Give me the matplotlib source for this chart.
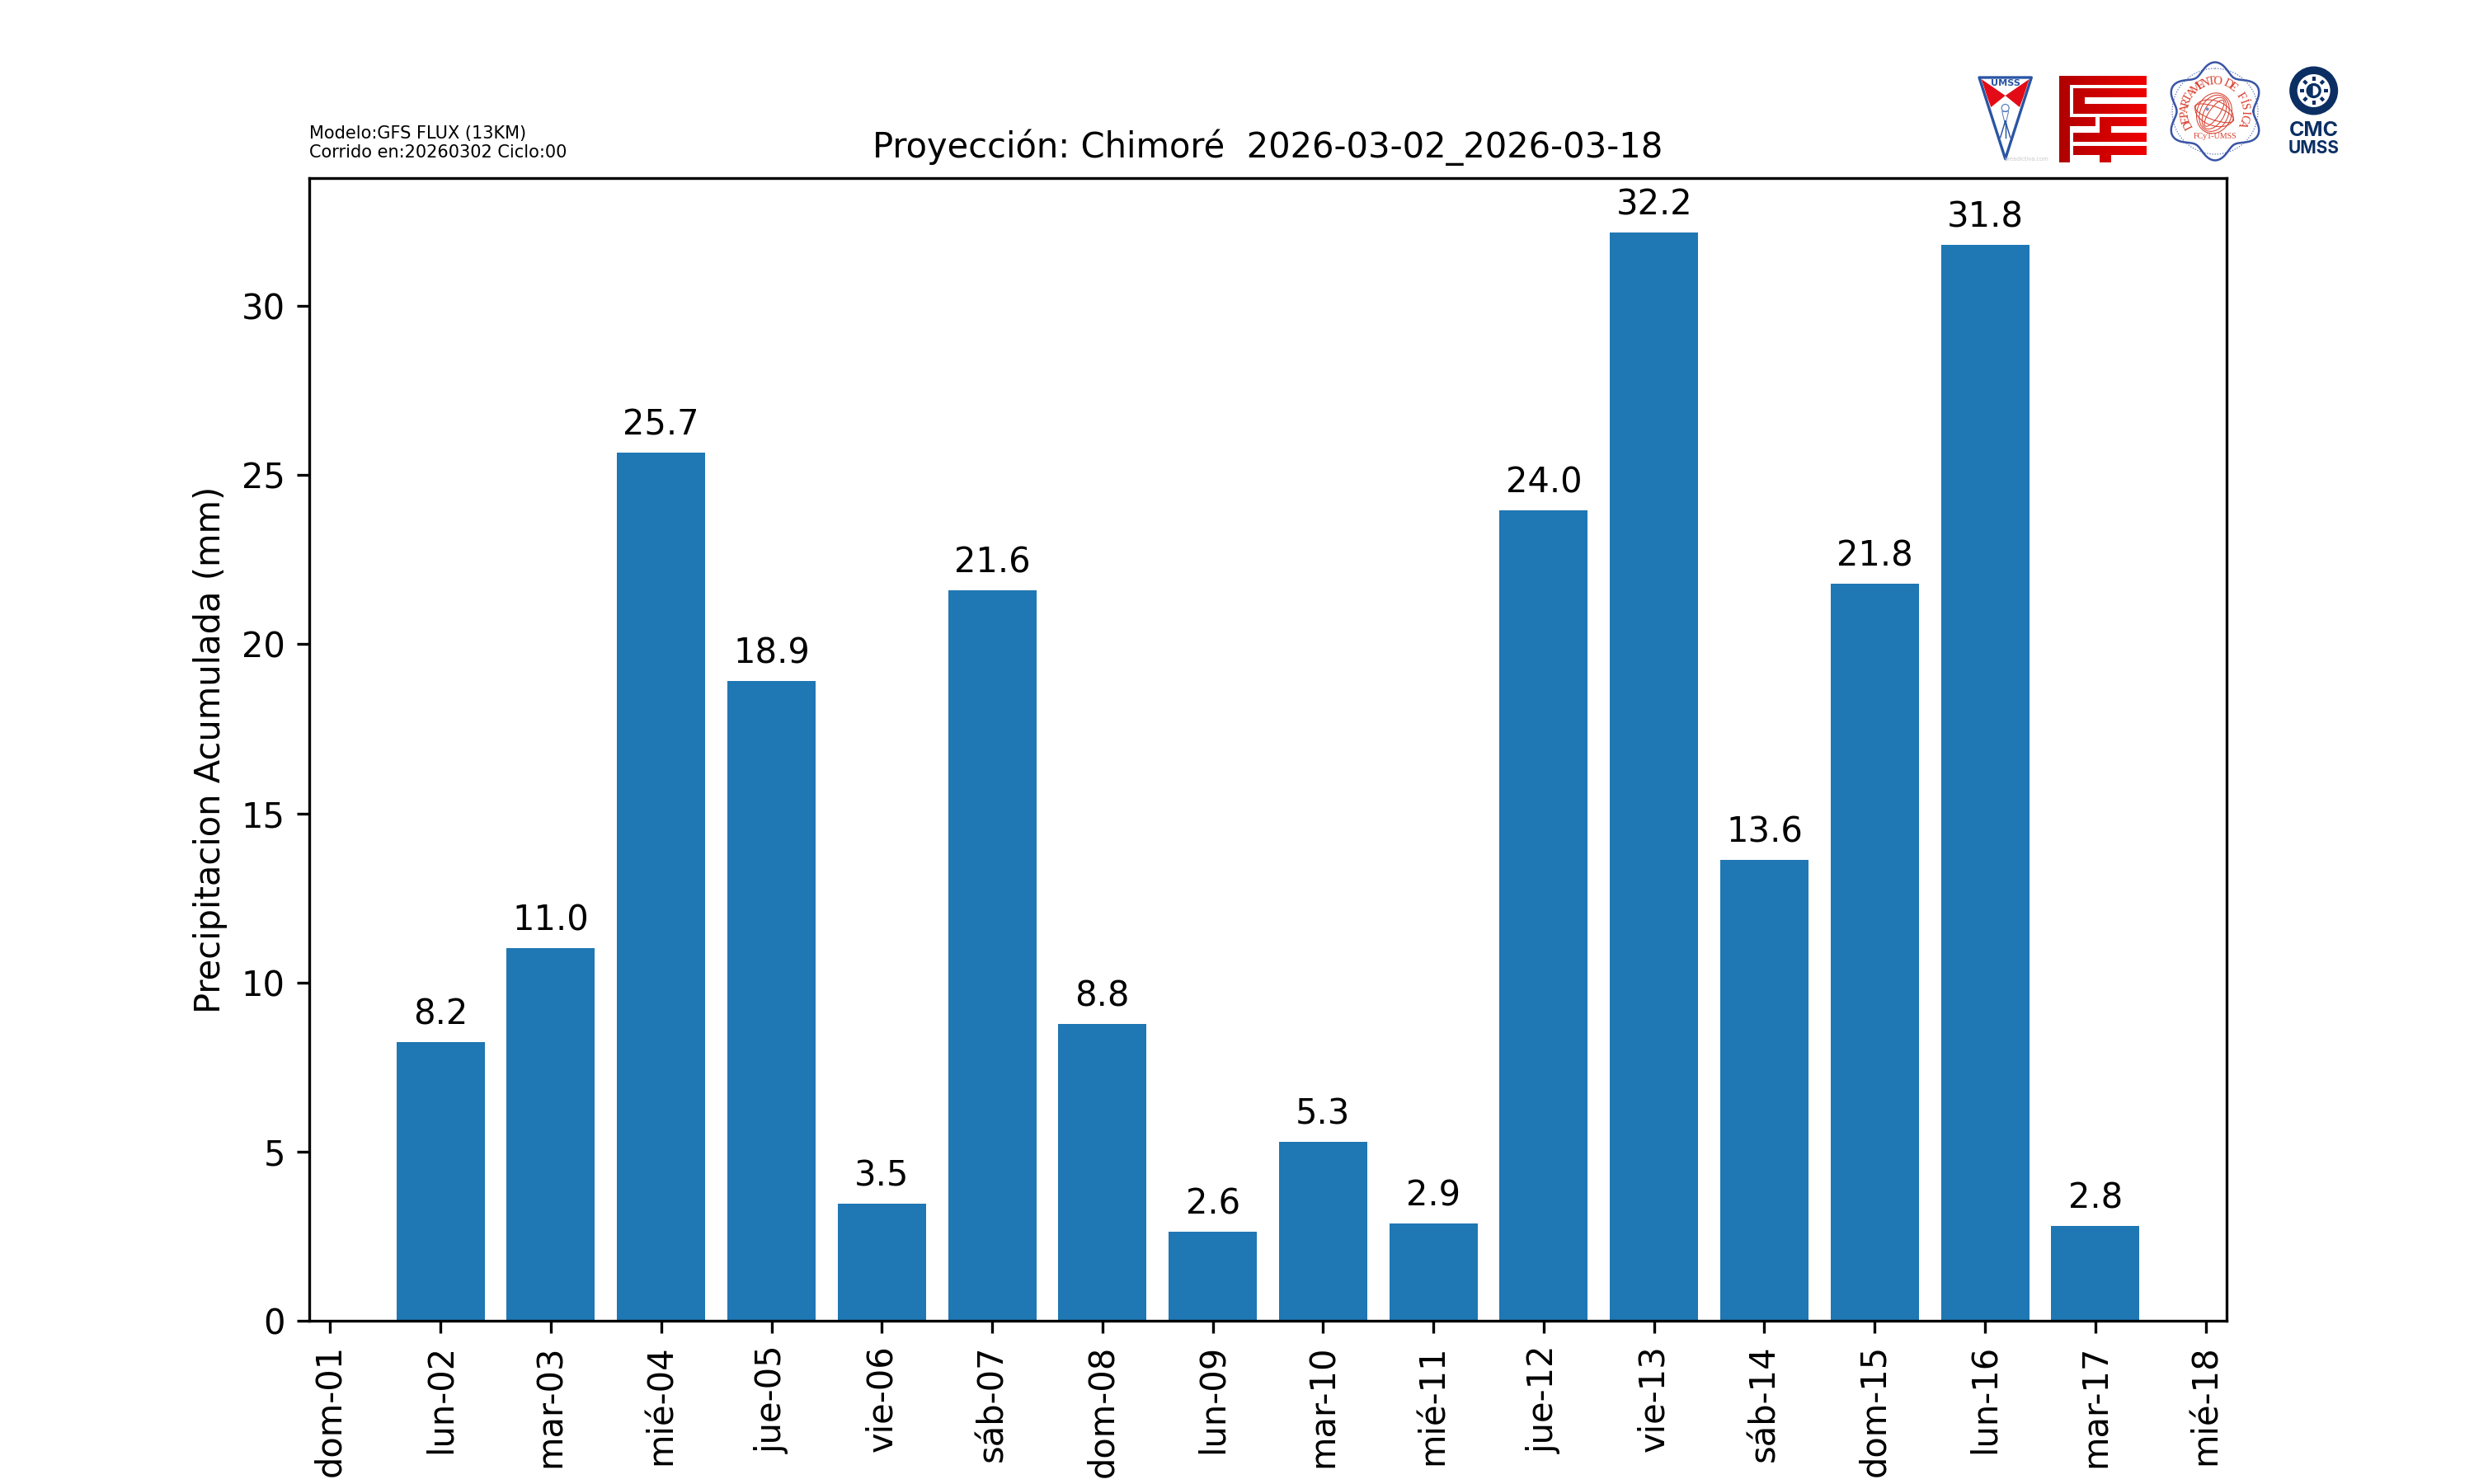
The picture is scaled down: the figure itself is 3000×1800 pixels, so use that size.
import numpy as np
import matplotlib
matplotlib.use("Agg")
import matplotlib.pyplot as plt
from matplotlib.patches import Polygon, Circle, PathPatch, Ellipse
from matplotlib.path import Path

days = [2, 3, 4, 5, 6, 7, 8, 9, 10, 11, 12, 13, 14, 15, 16, 17]
precip = [8.23, 11.01, 25.66, 18.90, 3.47, 21.60, 8.77, 2.64, 5.29, 2.87, 23.96, 32.17, 13.63, 21.79, 31.80, 2.81]
tick_days = list(range(1, 19))
tick_labels = ["dom-01", "lun-02", "mar-03", "mié-04", "jue-05", "vie-06", "sáb-07", "dom-08", "lun-09",
               "mar-10", "mié-11", "jue-12", "vie-13", "sáb-14", "dom-15", "lun-16", "mar-17", "mié-18"]
title = "Proyección: Chimoré  2026-03-02_2026-03-18"
subtitle = "Modelo:GFS FLUX (13KM)\nCorrido en:20260302 Ciclo:00"
ylabel = "Precipitacion Acumulada (mm)"

fig, ax = plt.subplots(figsize=(10, 6), dpi=300)
bars = ax.bar(days, precip, width=0.8, color="C0")
for d, v in zip(days, precip):
    ax.annotate(f"{v:.1f}", (d, v), xytext=(0, 3), textcoords="offset points", ha="center", va="bottom", fontsize=10)
ax.set_xticks(tick_days)
ax.set_xticklabels(tick_labels, rotation=90)
ax.set_ylabel(ylabel)
ax.set_title(title, fontsize=10)
ax.set_title(subtitle, loc="left", fontsize=5)

# --- logos, in reference pixel coordinates ---
lg = fig.add_axes([0, 0, 1, 1], zorder=5)
lg.set_xlim(0, 3000)
lg.set_ylim(1800, 0)
lg.axis("off")
lg.patch.set_alpha(0)


def Z(x, y):
    return (2380 + x / 3, 50 + y / 3)


def zpts(pts):
    return [Z(*p) for p in pts]


BLUE = "#2a55a4"
RED = "#e30b17"
# Shield
lg.add_patch(Polygon(zpts([(60, 132), (250, 132), (155, 428)]), closed=True, fc="white", ec=BLUE, lw=0.8, joinstyle="round"))
lg.add_patch(Polygon(zpts([(68, 138), (155, 198), (103, 240), (90, 205)]), closed=True, fc=RED, ec="none"))
lg.add_patch(Polygon(zpts([(242, 138), (155, 198), (207, 240), (220, 205)]), closed=True, fc=RED, ec="none"))
lg.text(*Z(155, 153), "UMSS", color=BLUE, fontsize=2.7, fontweight="bold", ha="center", va="center", family="DejaVu Sans")
lg.add_patch(Circle(Z(155, 243), 4.5, fc="none", ec="#5a7fbd", lw=0.3))
lg.add_patch(Polygon(zpts([(143, 255), (167, 255), (155, 305)]), closed=True, fc="none", ec="#5a7fbd", lw=0.25))
for dx in (-18, 0, 18):
    lg.plot(*zip(*zpts([(155, 290), (155 + dx, 350)])), color=BLUE, lw=0.35)
lg.text(*Z(232, 430), "preadictiva.com", color="#c8c8c8", fontsize=1.6, ha="center", va="center")

# FCyT
rects = [(350, 125, 390, 440), (350, 125, 668, 158), (403, 170, 668, 205), (403, 170, 443, 265),
         (403, 228, 668, 263), (390, 277, 483, 310), (498, 277, 668, 310), (498, 277, 540, 335),
         (403, 333, 668, 367), (403, 380, 668, 415), (498, 380, 540, 440)]
verts, codes = [], []
for x0, y0, x1, y1 in rects:
    verts += zpts([(x0, y0), (x1, y0), (x1, y1), (x0, y1), (x0, y0)])
    codes += [Path.MOVETO, Path.LINETO, Path.LINETO, Path.LINETO, Path.CLOSEPOLY]
fpath = Path(verts, codes)
x0f, y0f = Z(350, 125)
x1f, y1f = Z(668, 440)
grad = np.linspace(0, 1, 256).reshape(1, -1, 1)
c0 = np.array([0.69, 0.0, 0.0]).reshape(1, 1, 3)
c1 = np.array([0.94, 0.0, 0.0]).reshape(1, 1, 3)
img = lg.imshow(c0 + (c1 - c0) * grad, extent=(x0f, x1f, y1f, y0f), aspect="auto", zorder=2)
clip = PathPatch(fpath, transform=lg.transData, fc="none", ec="none", zorder=3)
lg.add_patch(clip)
img.set_clip_path(clip)

# Departamento de Fisica
cx, cy = Z(918, 255)
t = np.linspace(0, 2 * np.pi, 400)
r = 53 + 6.5 * np.cos(6 * (t + np.pi / 2))
lg.plot(cx + r * np.cos(t), cy + r * np.sin(t), color="#3a55a6", lw=0.6)
lg.add_patch(Circle((cx, cy), 52, fc="none", ec="#5a6fb8", lw=0.3, ls=(0, (1, 1.5))))
DRED = "#d8402f"
word = "DEPARTAMENTO DE FÍSICA"
angs = np.linspace(-207, 24, len(word))
for ch, a in zip(word, angs):
    ar = np.radians(a)
    lg.text(cx + 36 * np.cos(ar), cy + 36 * np.sin(ar), ch, color=DRED, fontsize=3.5, family="Liberation Serif",
            rotation=-a - 90, ha="center", va="center", rotation_mode="anchor")
lg.text(cx, cy + 31, "FCyT-UMSS", color=DRED, fontsize=2.4, family="Liberation Serif", ha="center", va="center")
gx, gy = Z(915, 262)
for w, h, ang in [(42, 50, 20), (34, 46, 25), (24, 42, 30), (12, 38, 35), (50, 16, 20), (48, 30, 20)]:
    lg.add_patch(Ellipse((gx, gy), w, h, angle=ang, fc="none", ec=DRED, lw=0.25))
lg.add_patch(Circle(Z(890, 247), 2, fc="#7a8fc8", ec="none"))

# CMC
NAVY = "#0b2f63"
cc = Z(1277, 180)
lg.add_patch(Circle(cc, 29.5, fc=NAVY, ec="none"))
lg.add_patch(Circle(cc, 20, fc="white", ec="none"))
lg.add_patch(Circle(cc, 7.5, fc="white", ec=NAVY, lw=0.8))
lg.add_patch(Polygon([(cc[0] - 1, cc[1] - 6.5), (cc[0] - 1, cc[1] + 6.5), (cc[0] - 6, cc[1] + 3), (cc[0] - 6, cc[1] - 3)], closed=True, fc=NAVY, ec="none"))
for a in np.radians(np.arange(0, 360, 45)):
    lg.plot([cc[0] + 12 * np.cos(a), cc[0] + 17 * np.cos(a)], [cc[1] + 12 * np.sin(a), cc[1] + 17 * np.sin(a)], color=NAVY, lw=1.0, solid_capstyle="butt")
lg.text(*Z(1277, 325), "CMC", color=NAVY, fontsize=6.0, fontweight="bold", family="Inter", ha="center", va="center")
lg.text(*Z(1277, 389), "UMSS", color=NAVY, fontsize=5.0, fontweight="bold", family="Inter", ha="center", va="center")
lg.set_xlim(0, 3000)
lg.set_ylim(1800, 0)

fig.savefig("out.png", dpi=300)
